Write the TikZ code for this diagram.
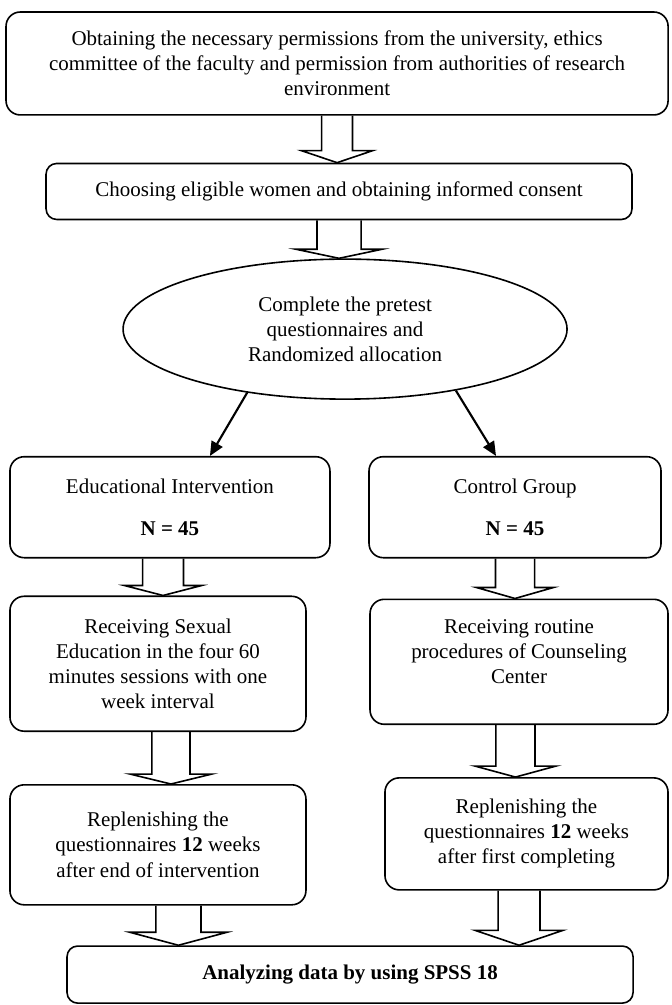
\documentclass[tikz,border=0pt]{standalone}
\usepackage{fontspec}
\setmainfont{Liberation Serif}
\usetikzlibrary{positioning,shapes.geometric,arrows.meta,calc}

% hollow block arrow: start, end, shaft half width, head half width, head length
\newcommand{\hollowarrow}[5]{%
  \draw[hollow] let \p1=(#1), \p2=(#2) in
    (\x1-#3,\y1) -- (\x1-#3,\y2+#5) -- (\x1-#4,\y2+#5) -- (\x1,\y2)
    -- (\x1+#4,\y2+#5) -- (\x1+#3,\y2+#5) -- (\x1+#3,\y1);
}

\begin{document}
\begin{tikzpicture}[
    box/.style={
        rectangle,
        draw,
        line width=0.9pt,
        rounded corners=8pt,
        align=center,
        inner sep=2pt,
        font=\fontsize{11.8pt}{14.1pt}\selectfont
    },
    oval/.style={
        ellipse,
        draw,
        line width=0.9pt,
        inner sep=0pt,
        align=center,
        font=\fontsize{11.8pt}{14.1pt}\selectfont
    },
    hollow/.style={draw, line width=0.9pt},
    arrow/.style={-{Triangle[length=8pt,width=7pt]}, line width=1.2pt}
]

\useasboundingbox (0,0) rectangle (377.44pt,-565.31pt);

\node[box, minimum width=372.4pt, minimum height=57.9pt] (perm) at (189.6pt,-35.7pt)
{Obtaining the necessary permissions from the university, ethics\\
 committee of the faculty and permission from authorities of research\\
 environment};

\node[box, rounded corners=6pt, minimum width=329.6pt, minimum height=31.5pt] (choose)
[below=26.4pt of perm, xshift=1.1pt]
{Choosing eligible women and obtaining informed consent};

\node[oval, minimum width=249.75pt, minimum height=78.75pt] (ell)
[below=21.4pt of choose, xshift=3.4pt]
{Complete the pretest\\ questionnaires and\\ Randomized allocation};

\node[box, minimum width=180pt, minimum height=56.8pt] (L1)
[below=31.5pt of ell, xshift=-98.5pt]
{Educational Intervention\\[9.5pt] \textbf{N = 45}};

\node[box, minimum width=164.25pt, minimum height=56.8pt] (R1)
[below=31.5pt of ell, xshift=95.6pt]
{Control Group\\[9.5pt] \textbf{N = 45}};

\node[box, minimum width=166.5pt, minimum height=75.9pt] (L2)
[below=20.8pt of L1, xshift=-6.75pt]
{Receiving Sexual\\ Education in the four 60\\ minutes sessions with one\\ week interval};

\node[box, minimum width=167.6pt, minimum height=70.3pt, text depth=11.2pt] (R2)
[below=22.5pt of R1, xshift=2.25pt]
{Receiving routine\\ procedures of Counseling\\ Center};

\node[box, minimum width=166.5pt, minimum height=67.5pt] (L3)
[below=29.25pt of L2]
{Replenishing the\\ questionnaires \textbf{12} weeks\\ after end of intervention};

\node[box, minimum width=159.2pt, minimum height=63pt] (R3)
[below=29.25pt of R2, xshift=4.2pt]
{Replenishing the\\ questionnaires \textbf{12} weeks\\ after first completing};

\node[box, rounded corners=6pt, minimum width=318.4pt, minimum height=32.1pt] (analyze)
at (196.9pt,-548.2pt)
{\textbf{Analyzing data by using SPSS 18}};

\hollowarrow{perm.south}{choose.north}{8.7pt}{20pt}{6.75pt}
\hollowarrow{choose.south}{ell.north}{12.4pt}{24.2pt}{5.1pt}
\hollowarrow{[xshift=-3.9pt]L1.south}{L2.north}{11.5pt}{21.7pt}{5.6pt}
\hollowarrow{R1.south}{R2.north}{11pt}{21.7pt}{6.2pt}
\hollowarrow{[xshift=7.3pt]L2.south}{L3.north}{10.7pt}{23pt}{5.6pt}
\hollowarrow{[xshift=-2pt]R2.south}{R3.north}{11pt}{22.8pt}{6.2pt}
\hollowarrow{[xshift=11.5pt]L3.south}{analyze.north}{12.7pt}{27.3pt}{7.3pt}
\hollowarrow{[xshift=-4.2pt]R3.south}{analyze.north}{11.8pt}{24.75pt}{8.4pt}

\draw[arrow] (ell.213.7) -- ([xshift=22.5pt]L1.north);
\draw[arrow] (ell.331.4) -- ([xshift=-10.7pt]R1.north);

\end{tikzpicture}
\end{document}
